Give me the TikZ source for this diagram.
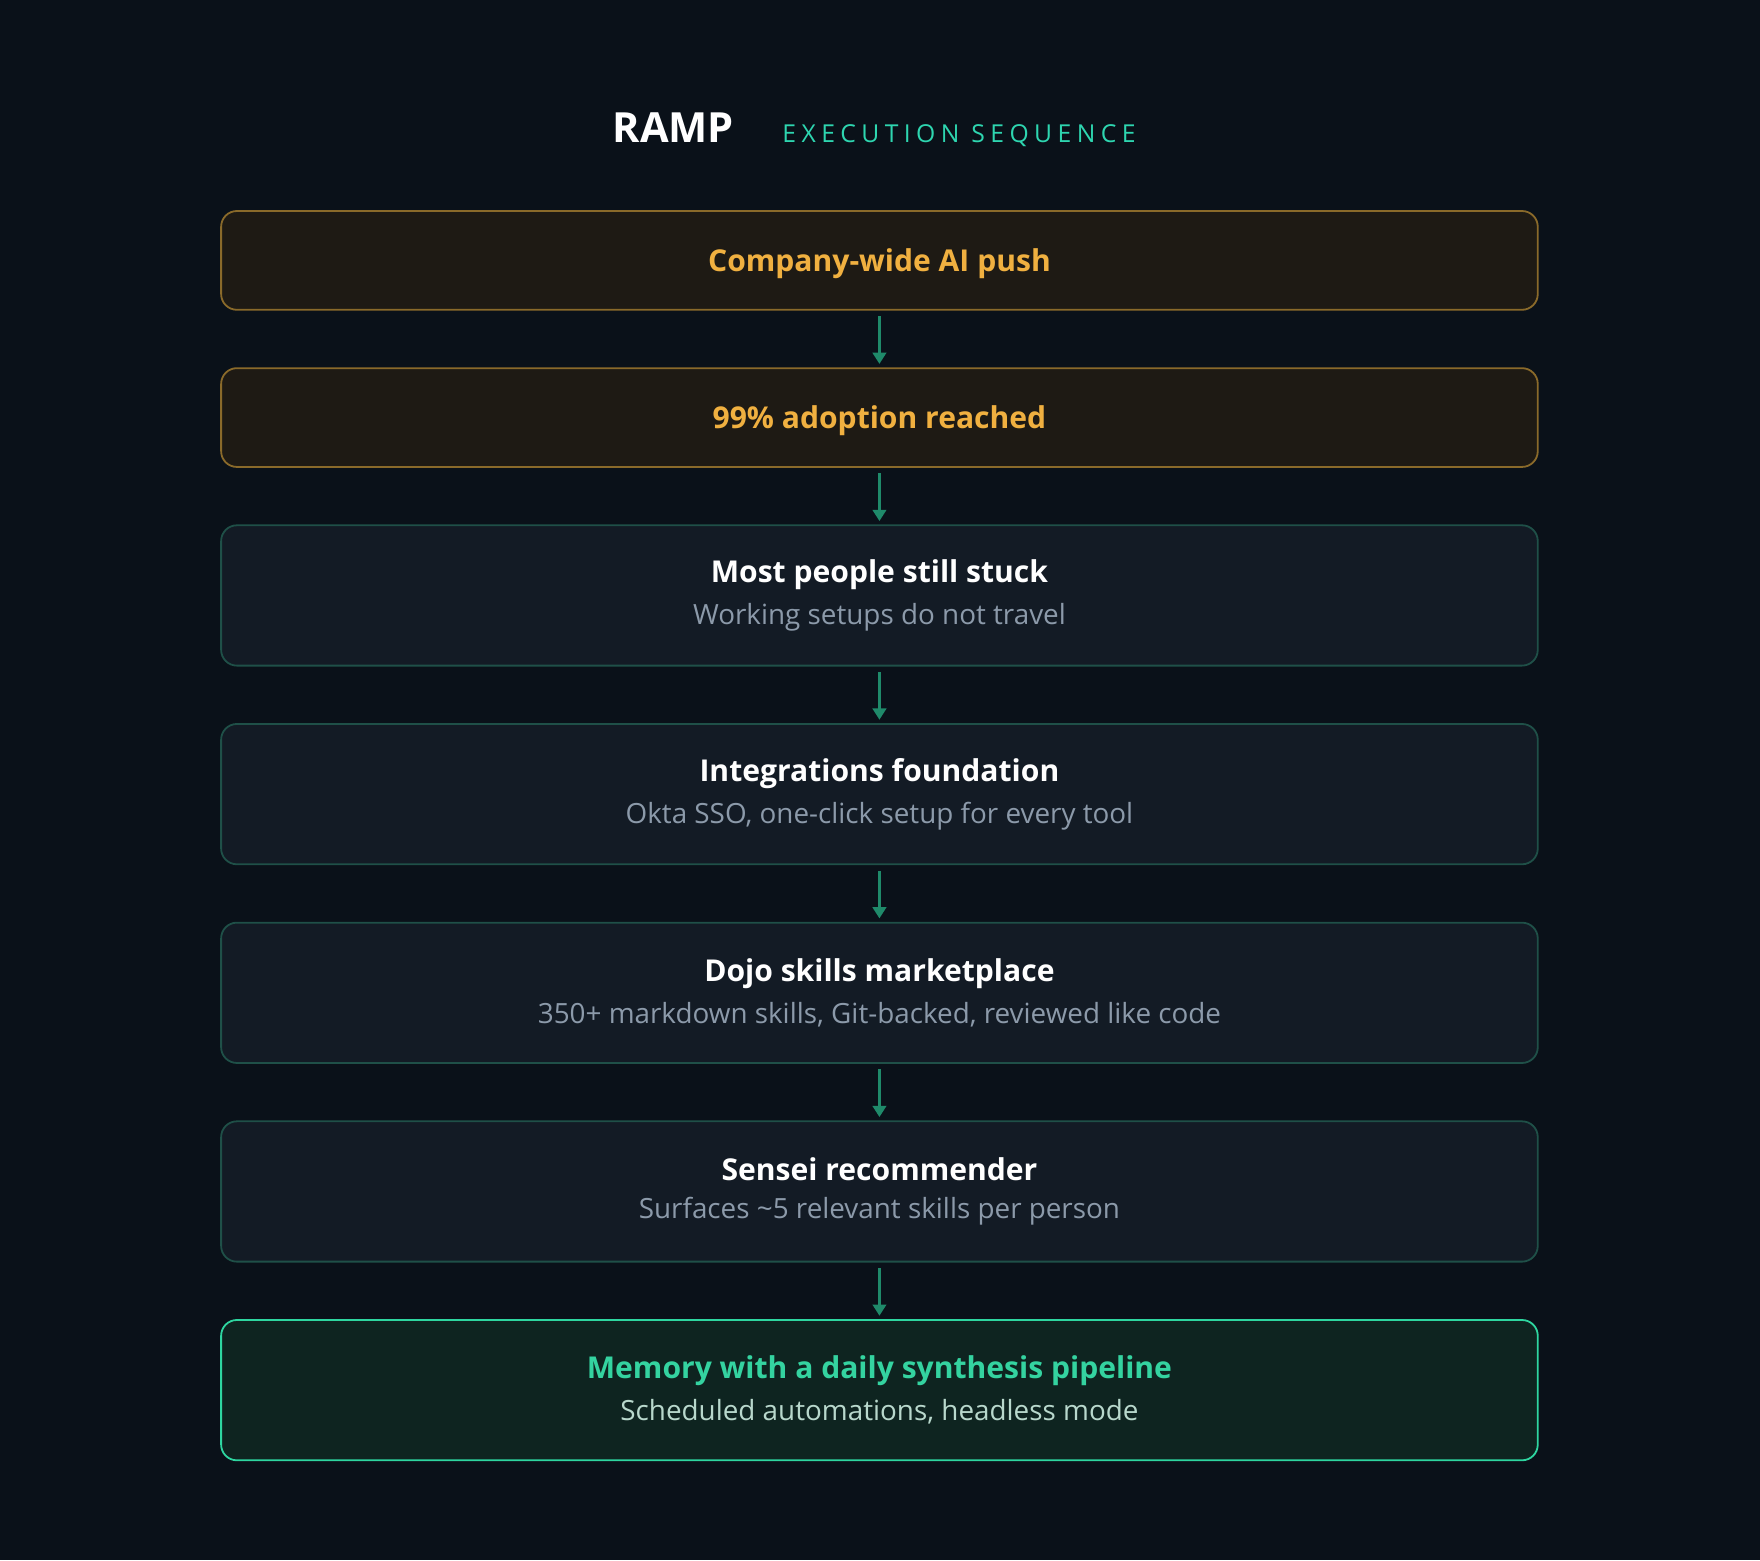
\documentclass[tikz,border=0pt]{standalone}
\usepackage{fontspec}
\setmainfont{Open Sans}
\usetikzlibrary{arrows.meta}
\definecolor{bg}{HTML}{0A1119}
\definecolor{amfill}{HTML}{1E1A14}
\definecolor{amline}{HTML}{8A6A2A}
\definecolor{amtext}{HTML}{F0B040}
\definecolor{dkfill}{HTML}{131B25}
\definecolor{dkline}{HTML}{1F5048}
\definecolor{sub}{HTML}{8C9AAA}
\definecolor{grfill}{HTML}{0E2420}
\definecolor{grline}{HTML}{2ED6A0}
\definecolor{grtext}{HTML}{34D3A0}
\definecolor{grsub}{HTML}{B8D8CC}
\definecolor{arr}{HTML}{1F8A6A}
\definecolor{teal}{HTML}{2ED6B0}
\newcommand\myttl{\fontsize{13.4}{16}\selectfont\bfseries}
\newcommand\mysb{\fontsize{12.4}{15}\selectfont\mdseries\color{sub}}
\begin{document}
\begin{tikzpicture}[x=0.5pt,y=-0.5pt,
 box/.style={draw,rounded corners=7pt,line width=0.8pt,minimum width=586.5pt,align=center,inner sep=0pt},
 amb/.style={box,fill=amfill,draw=amline,minimum height=44pt,text=amtext,font=\myttl},
 dk/.style={box,fill=dkfill,draw=dkline,minimum height=62.5pt,text=white},
 gr/.style={box,fill=grfill,draw=grline,minimum height=62.5pt},
 ar/.style={draw=arr,line width=1.2pt,-{Triangle[length=5pt,width=6pt]}}]
\fill[bg] (0,0) rectangle (1568,1390);
\node[font=\fontsize{18.5}{20}\selectfont\bfseries,text=white,anchor=base east] (t1) at (661,127) {RAMP};
\node[font=\fontsize{11}{13}\selectfont\addfontfeature{LetterSpace=22},text=teal,anchor=base west] (t2) at (690,127) {EXECUTION SEQUENCE};
\node[amb,text depth=-1pt] (b1) at (783.5,232) {Company-wide AI push};
\node[amb,text depth=-1pt] (b2) at (783.5,372) {99\% adoption reached};
\node[dk] (b3) at (783.5,530.5) {{\myttl Most people still stuck}\\[5pt]{\mysb Working setups do not travel}};
\node[dk] (b4) at (783.5,707.5) {{\myttl Integrations foundation}\\[5pt]{\mysb Okta SSO, one-click setup for every tool}};
\node[dk] (b5) at (783.5,884.5) {{\myttl Dojo skills marketplace}\\[5pt]{\mysb 350+ markdown skills, Git-backed, reviewed like code}};
\node[dk] (b6) at (783.5,1061.5) {{\myttl Sensei recommender}\\[5pt]{\mysb Surfaces \textasciitilde5 relevant skills per person}};
\node[gr] (b7) at (783.5,1238.5) {{\color{grtext}\myttl Memory with a daily synthesis pipeline}\\[5pt]{\mysb\color{grsub} Scheduled automations, headless mode}};
\foreach \a/\b in {b1/b2,b2/b3,b3/b4,b4/b5,b5/b6,b6/b7}
 \draw[ar] ([yshift=-2.5pt]\a.south) -- ([yshift=1.5pt]\b.north);
\end{tikzpicture}
\end{document}
